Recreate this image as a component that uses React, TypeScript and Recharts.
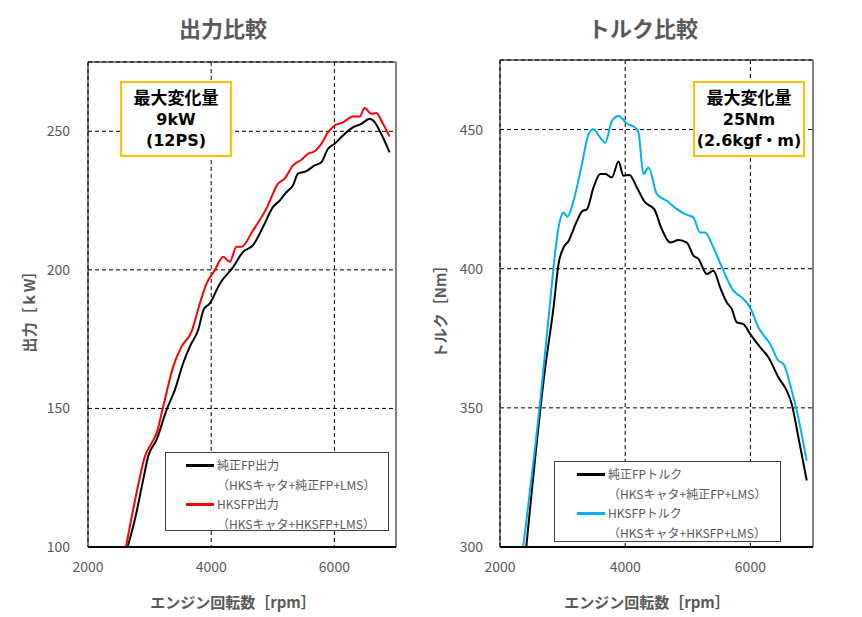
import React from "react";
import { LineChart, Line, XAxis, YAxis, CartesianGrid, ReferenceLine, Legend } from "recharts";

// --- 出力 (kW) ---
const powerStockRpm = [2643, 2762, 2897, 2977, 3113, 3276, 3410, 3545, 3653, 3788, 3880, 3978, 4140, 4355, 4518, 4680, 4842, 5004, 5112, 5220, 5328, 5409, 5545, 5680, 5788, 5896, 6004, 6139, 6301, 6437, 6572, 6653, 6761, 6896];
const powerStock = [100, 110, 124.4, 132.7, 138.7, 149.5, 156.7, 166.3, 172.3, 178.3, 185.8, 187.9, 195, 201, 206.5, 208.9, 215.5, 222.7, 225, 228, 230.5, 234.7, 235.6, 237.7, 238.8, 243.7, 245.5, 248.5, 251.4, 252.7, 254.5, 253.3, 249, 242.4];

const powerHksRpm = [2616, 2789, 2924, 3033, 3113, 3221, 3383, 3518, 3681, 3816, 3924, 4059, 4194, 4302, 4410, 4491, 4680, 4896, 5085, 5193, 5328, 5464, 5572, 5680, 5788, 5896, 6004, 6139, 6301, 6410, 6491, 6599, 6680, 6788, 6896];
const powerHks = [100, 119.6, 132.7, 137.5, 141.1, 150.7, 165.1, 172.3, 177.7, 187.9, 195, 199.9, 204.7, 202.9, 208.3, 208.3, 214.3, 222.1, 231.1, 232.9, 237.7, 239.7, 241.9, 242.8, 245.5, 249.6, 252.1, 253.2, 255.3, 255.3, 258.4, 256.3, 256.6, 252.7, 248.1];

// --- トルク (Nm) ---
const torqueStockRpm = [2420, 2723, 2855, 2935, 3015, 3095, 3229, 3309, 3389, 3494, 3601, 3681, 3787, 3893, 3973, 4069, 4186, 4319, 4463, 4585, 4718, 4850, 4984, 5090, 5170, 5304, 5409, 5516, 5623, 5703, 5783, 5888, 5995, 6155, 6287, 6447, 6580, 6660, 6766, 6900];
const torqueStock = [300, 364.6, 386, 401.7, 407.6, 410, 417.2, 420.6, 421.4, 429.2, 434, 434, 432.8, 438.5, 433.4, 433.7, 429.2, 423.8, 421.4, 414.2, 409.4, 410.3, 409.4, 404.7, 403.5, 398.1, 399.3, 393.3, 387.9, 385.5, 380.7, 380.1, 376.6, 371.8, 368.2, 361, 356.2, 351.4, 339.5, 323.9];

const torqueHksRpm = [2370, 2643, 2803, 2855, 2935, 3015, 3079, 3175, 3309, 3414, 3494, 3601, 3681, 3787, 3893, 4027, 4159, 4212, 4292, 4372, 4506, 4665, 4825, 4957, 5090, 5196, 5277, 5409, 5569, 5729, 5862, 5995, 6128, 6314, 6447, 6527, 6660, 6740, 6900];
const torqueHks = [300, 352.6, 388.5, 400.5, 414.8, 420.2, 418.7, 424.4, 437.6, 448.3, 450.1, 447.1, 445.3, 453.1, 454.9, 452.2, 450.7, 448.9, 434, 436.4, 426.8, 424.4, 421.4, 419.6, 418.4, 413, 413, 407.6, 399.3, 392.1, 389.7, 386.1, 378.9, 373, 367, 365.8, 356.2, 349, 331];

const xTicks = [2000, 4000, 6000];
const powerTicks = [100, 150, 200, 250];
const torqueTicks = [300, 350, 400, 450];

const powerNames = ["純正FP出力", "HKSFP出力"];
const torqueNames = ["純正FPトルク", "HKSFPトルク"];
const legendSubs = ["（HKSキャタ+純正FP+LMS）", "（HKSキャタ+HKSFP+LMS）"];

const FONT = "'Noto Sans CJK JP', 'Noto Sans', sans-serif";
const BOX_FONT = "'DejaVu Sans', 'Noto Sans CJK JP', sans-serif";
const GRAY = "#595959";

const toRows = (rpm: number[], vals: number[]) => rpm.map((r, i) => ({ rpm: r, value: vals[i] }));

// keep legend in series order (recharts sorts the payload by name)
const makeLegend = (names: string[], subs: string[], lineX: number) => ({ payload }: any) => {
    const items = names.map((n) => (payload || []).find((p: any) => p.value === n)).filter(Boolean);
    return (
        <div style={{ position: "relative", width: "100%", height: "100%", boxSizing: "border-box", border: "1px solid #404040", background: "#fff", fontFamily: FONT, fontSize: 12, color: GRAY }}>
            {items.map((entry: any, i: number) => (
                <React.Fragment key={`lg-${i}`}>
                    <div style={{ position: "absolute", left: lineX, top: 11 + i * 39, width: 28, height: 2.5, background: entry.color }} />
                    <div style={{ position: "absolute", left: lineX + 31, top: 3 + i * 39, lineHeight: "18px", whiteSpace: "nowrap" }}>{entry.value}</div>
                    <div style={{ position: "absolute", left: lineX + 31, top: 23 + i * 39, lineHeight: "18px", whiteSpace: "nowrap" }}>{subs[i]}</div>
                </React.Fragment>
            ))}
        </div>
    );
};

const boxStyle = (left: number): React.CSSProperties => ({
    position: "absolute", left, top: 81, width: 112, height: 76, boxSizing: "border-box",
    border: "2px solid #FFC000", background: "#fff", fontFamily: BOX_FONT, fontWeight: 700,
    fontSize: 16, lineHeight: "21px", textAlign: "center", color: "#000", paddingTop: 5,
});

const textStyle = (left: number, top: number, width: number, size: number): React.CSSProperties => ({
    position: "absolute", left, top, width, textAlign: "center", fontFamily: FONT,
    fontWeight: 700, fontSize: size, color: GRAY, lineHeight: "24px", whiteSpace: "nowrap",
});

export default function App() {
    const tickStyle = { fill: GRAY, fontSize: 14, fontFamily: FONT };
    return (
        <div style={{ position: "absolute", left: 0, top: 0, width: 862, height: 617, background: "#fff", overflow: "hidden" }}>
            {/* 出力比較 */}
            <div style={{ position: "absolute", left: 0, top: 0 }}>
                <LineChart width={430} height={617} margin={{ top: 62, right: 34, bottom: 0, left: 0 }}>
                    <CartesianGrid stroke="#000" strokeDasharray="4 3" />
                    <XAxis type="number" dataKey="rpm" domain={[2000, 7000]} ticks={xTicks} allowDataOverflow height={70}
                        tickLine={false} tickMargin={9} tick={tickStyle} axisLine={{ stroke: "#000", strokeWidth: 2 }} />
                    <YAxis type="number" domain={[100, 275]} ticks={powerTicks} allowDataOverflow width={88}
                        tickLine={false} tickMargin={12} tick={tickStyle} axisLine={{ stroke: "#000", strokeWidth: 1 }} />
                    <ReferenceLine y={275} stroke="#000" strokeWidth={1} />
                    <ReferenceLine x={7000} stroke="#808080" strokeWidth={2} />
                    <Line data={toRows(powerStockRpm, powerStock)} dataKey="value" name={powerNames[0]} stroke="#000" strokeWidth={2}
                        dot={false} type="monotone" isAnimationActive={false} />
                    <Line data={toRows(powerHksRpm, powerHks)} dataKey="value" name={powerNames[1]} stroke="#FF0000" strokeWidth={2}
                        dot={false} type="monotone" isAnimationActive={false} />
                    <Legend layout="vertical" align="center" verticalAlign="middle"
                        wrapperStyle={{ left: 165, top: 452, width: 224, height: 79 }} content={makeLegend(powerNames, legendSubs, 20)} />
                </LineChart>
            </div>

            {/* トルク比較 */}
            <div style={{ position: "absolute", left: 430, top: 0 }}>
                <LineChart width={432} height={617} margin={{ top: 60, right: 49, bottom: 0, left: 0 }}>
                    <CartesianGrid stroke="#000" strokeDasharray="4 3" />
                    <XAxis type="number" dataKey="rpm" domain={[2000, 7000]} ticks={xTicks} allowDataOverflow height={70}
                        tickLine={false} tickMargin={9} tick={tickStyle} axisLine={{ stroke: "#000", strokeWidth: 2 }} />
                    <YAxis type="number" domain={[300, 475]} ticks={torqueTicks} allowDataOverflow width={70}
                        tickLine={false} tickMargin={11} tick={tickStyle} axisLine={{ stroke: "#000", strokeWidth: 1 }} />
                    <ReferenceLine y={475} stroke="#000" strokeWidth={1} />
                    <ReferenceLine x={7000} stroke="#808080" strokeWidth={2} />
                    <Line data={toRows(torqueStockRpm, torqueStock)} dataKey="value" name={torqueNames[0]} stroke="#000" strokeWidth={2}
                        dot={false} type="monotone" isAnimationActive={false} />
                    <Line data={toRows(torqueHksRpm, torqueHks)} dataKey="value" name={torqueNames[1]} stroke="#00B0F0" strokeWidth={2}
                        dot={false} type="monotone" isAnimationActive={false} />
                    <Legend layout="vertical" align="center" verticalAlign="middle"
                        wrapperStyle={{ left: 124, top: 461, width: 227, height: 81 }} content={makeLegend(torqueNames, legendSubs, 22)} />
                </LineChart>
            </div>

            {/* titles and axis labels */}
            <div style={textStyle(123, 15, 200, 22)}>出力比較</div>
            <div style={textStyle(543, 15, 200, 22)}>トルク比較</div>
            <div style={textStyle(133, 590, 200, 15)}>エンジン回転数［rpm］</div>
            <div style={textStyle(547, 590, 200, 15)}>エンジン回転数［rpm］</div>
            <div style={{ ...textStyle(-31, 296, 120, 15), transform: "rotate(-90deg)" }}>出力［ｋW］</div>
            <div style={{ ...textStyle(380, 296, 120, 15), transform: "rotate(-90deg)" }}>トルク［Nm］</div>

            {/* 最大変化量 boxes */}
            <div style={boxStyle(120)}>
                <div style={{ fontSize: 17 }}>最大変化量</div>
                <div>9kW</div>
                <div>(12PS)</div>
            </div>
            <div style={boxStyle(693)}>
                <div style={{ fontSize: 17 }}>最大変化量</div>
                <div>25Nm</div>
                <div>(2.6kgf・m)</div>
            </div>
        </div>
    );
}
